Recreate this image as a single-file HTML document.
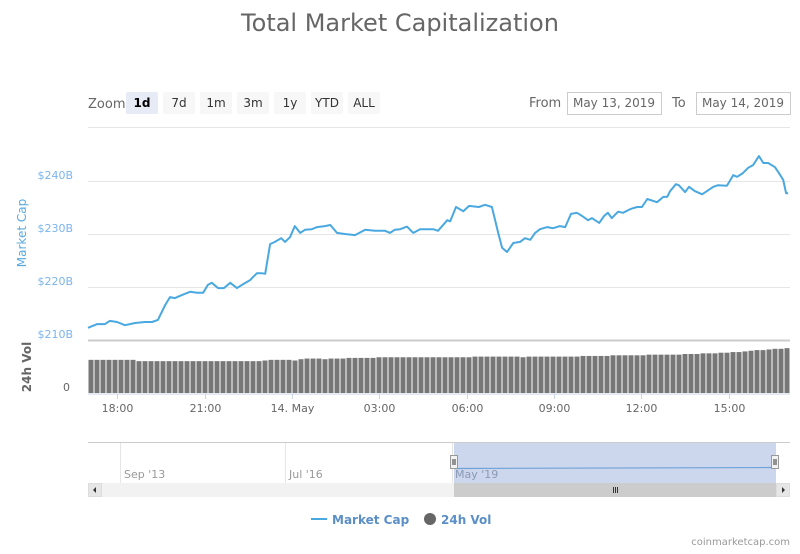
<!DOCTYPE html>
<html><head><meta charset="utf-8">
<style>
body{margin:0;background:#fff;font-family:"DejaVu Sans","Liberation Sans",sans-serif;}
svg text{font-family:"DejaVu Sans","Liberation Sans",sans-serif;}
</style></head>
<body>
<svg id="chart" width="800" height="550" viewBox="0 0 800 550" xmlns="http://www.w3.org/2000/svg">
<text x="400" y="31" text-anchor="middle" font-size="24" fill="#666">Total Market Capitalization</text>
<g>
<text x="88" y="108" font-size="13" fill="#666">Zoom</text>
<g><rect x="126" y="92" width="32" height="22" rx="2" fill="#e6ebf5"/><text x="142" y="107" text-anchor="middle" font-size="12" font-weight="bold" fill="#000">1d</text></g>
<g><rect x="163" y="92" width="32" height="22" rx="2" fill="#f7f7f7"/><text x="179" y="107" text-anchor="middle" font-size="12" fill="#333">7d</text></g>
<g><rect x="200" y="92" width="32" height="22" rx="2" fill="#f7f7f7"/><text x="216" y="107" text-anchor="middle" font-size="12" fill="#333">1m</text></g>
<g><rect x="237" y="92" width="32" height="22" rx="2" fill="#f7f7f7"/><text x="253" y="107" text-anchor="middle" font-size="12" fill="#333">3m</text></g>
<g><rect x="274" y="92" width="32" height="22" rx="2" fill="#f7f7f7"/><text x="290" y="107" text-anchor="middle" font-size="12" fill="#333">1y</text></g>
<g><rect x="311" y="92" width="32" height="22" rx="2" fill="#f7f7f7"/><text x="327" y="107" text-anchor="middle" font-size="12" fill="#333">YTD</text></g>
<g><rect x="348" y="92" width="32" height="22" rx="2" fill="#f7f7f7"/><text x="364" y="107" text-anchor="middle" font-size="12" fill="#333">ALL</text></g>
<text x="529" y="107" font-size="13" fill="#666">From</text>
<g><rect x="567.5" y="92.5" width="94" height="22" fill="#fff" stroke="#ccc"/><text x="614" y="107" text-anchor="middle" font-size="12" fill="#666">May 13, 2019</text></g>
<text x="672" y="107" font-size="13" fill="#666">To</text>
<g><rect x="696.5" y="92.5" width="94" height="22" fill="#fff" stroke="#ccc"/><text x="743" y="107" text-anchor="middle" font-size="12" fill="#666">May 14, 2019</text></g>
</g>
<g id="grid"></g>
<g id="yaxis"></g>
<text transform="translate(26,233) rotate(-90)" text-anchor="middle" font-size="12" fill="#5aa9de">Market Cap</text>
<text transform="translate(31,367) rotate(-90)" text-anchor="middle" font-size="12" font-weight="bold" fill="#666">24h Vol</text>
<text x="70" y="391" text-anchor="end" font-size="11" fill="#666">0</text>
<g id="bars"></g>
<path id="line" fill="none" stroke="#4aa8e0" stroke-width="2" stroke-linejoin="round"/>
<line x1="88" y1="394" x2="790" y2="394" stroke="#ccd6eb"/>
<g id="xaxis"></g>
<g>
<line x1="88" y1="442.5" x2="790" y2="442.5" stroke="#ccc"/>
<line x1="120.5" y1="443" x2="120.5" y2="483" stroke="#e6e6e6"/>
<line x1="285.5" y1="443" x2="285.5" y2="483" stroke="#e6e6e6"/>
<line x1="452.5" y1="443" x2="452.5" y2="483" stroke="#e6e6e6"/>
<text x="124" y="478" font-size="11" fill="#999">Sep '13</text>
<text x="289" y="478" font-size="11" fill="#999">Jul '16</text>
<rect x="454" y="443" width="322" height="40" fill="#ccd6ec"/>
<text x="455" y="478" font-size="11" fill="#8a9ab5">May '19</text>
<line x1="454" y1="468.5" x2="776" y2="467.5" stroke="#6fa3d8" stroke-width="1.2"/>
<g><rect x="450.5" y="455.5" width="7" height="13" fill="#f2f2f2" stroke="#999"/><line x1="453" y1="459" x2="453" y2="465" stroke="#333"/><line x1="455" y1="459" x2="455" y2="465" stroke="#333"/></g>
<g><rect x="771.5" y="455.5" width="7" height="13" fill="#f2f2f2" stroke="#999"/><line x1="774" y1="459" x2="774" y2="465" stroke="#333"/><line x1="776" y1="459" x2="776" y2="465" stroke="#333"/></g>
</g>
<g>
<rect x="88" y="483" width="702" height="14" fill="#f2f2f2"/>
<rect x="454" y="483" width="322" height="14" fill="#cccccc"/>
<line x1="613.5" y1="487" x2="613.5" y2="493" stroke="#333"/><line x1="615.5" y1="487" x2="615.5" y2="493" stroke="#333"/><line x1="617.5" y1="487" x2="617.5" y2="493" stroke="#333"/>
<g><rect x="88.5" y="483.5" width="13" height="13" fill="#e6e6e6" stroke="#ddd"/><path d="M96 487 L93 490 L96 493Z" fill="#333"/></g>
<g><rect x="776.5" y="483.5" width="13" height="13" fill="#e6e6e6" stroke="#ddd"/><path d="M782 487 L785 490 L782 493Z" fill="#333"/></g>
</g>
<g>
<g><line x1="311" y1="519" x2="327" y2="519" stroke="#4aa8e0" stroke-width="2"/><text x="332" y="524" font-size="12" font-weight="bold" fill="#5b8fc6">Market Cap</text></g>
<g><circle cx="430" cy="519" r="6" fill="#666"/><text x="441" y="524" font-size="12" font-weight="bold" fill="#5b8fc6">24h Vol</text></g>
</g>
<text x="790" y="545" text-anchor="end" font-size="10" fill="#999">coinmarketcap.com</text>
</svg>
<script>
// minutes since 13 May 17:00
const times=[0,19,35,45,60,76,97,117,132,144,159,169,179,194,210,225,237,247,255,268,280,293,307,317,334,348,358,365,375,385,398,406,416,426,437,447,461,472,488,499,513,529,550,571,591,612,622,632,643,657,670,684,711,721,740,746,758,773,785,805,818,832,845,853,863,876,890,900,911,921,931,946,958,972,983,995,1007,1018,1030,1038,1053,1063,1071,1079,1092,1102,1117,1131,1141,1152,1172,1185,1193,1199,1211,1217,1230,1238,1250,1265,1275,1288,1298,1316,1329,1337,1349,1360,1370,1382,1391,1401,1415,1426,1432,1438,1442];
const marketCap=[212.3,213.0,213.0,213.6,213.4,212.8,213.2,213.4,213.4,213.8,216.6,218.1,217.9,218.5,219.1,218.9,218.9,220.4,220.8,219.8,219.8,220.8,219.8,220.4,221.3,222.6,222.6,222.5,228.1,228.5,229.2,228.5,229.4,231.5,230.2,230.8,230.9,231.3,231.5,231.7,230.2,230.0,229.8,230.8,230.6,230.6,230.2,230.8,230.9,231.4,230.2,230.9,230.9,230.6,232.6,232.4,235.1,234.3,235.3,235.1,235.5,235.1,230.2,227.4,226.6,228.3,228.5,229.2,228.9,230.2,230.9,231.3,231.1,231.5,231.3,233.8,234.0,233.4,232.6,233.0,232.1,233.4,234.0,233.0,234.2,234.0,234.7,235.1,235.1,236.6,236.0,237.0,237.0,238.1,239.4,239.2,237.9,238.9,238.1,237.5,238.1,238.9,239.2,239.1,241.1,240.8,241.5,242.5,243.0,244.7,243.4,243.4,242.6,241.1,240.2,237.7,237.7];
const volume=[51,51,51,51,51,51,51,51,49,49,49,49,49,49,49,49,49,49,49,49,49,49,49,49,49,49,49,49,49,50,51,51,51,51,50,52,53,53,53,52,53,53,53,54,54,54,54,54,55,55,55,55,55,55,55,55,55,55,55,55,55,55,55,55,56,56,56,56,56,56,56,56,55,56,56,56,56,56,56,56,56,56,57,57,57,57,57,58,58,58,58,58,58,59,59,59,59,59,59,60,60,60,61,61,61,62,62,63,63,64,65,66,66,67,68,68,69];
const yTicks=[210,220,230,240];
const yTickLabels=['$210B','$220B','$230B','$240B'];
const xTicks=[60,240,420,600,780,960,1140,1320];
const xTickLabels=['18:00','21:00','14. May','03:00','06:00','09:00','12:00','15:00'];

const NS='http://www.w3.org/2000/svg';
const X0=88,X1=790,T0=0,T1=1446;
const xs=t=>X0+(t-T0)/(T1-T0)*(X1-X0);
const ys=v=>340-(v-210)*5.3;
const VB=393,vs=v=>VB-v*0.65;
function mk(tag,attrs,parent){const e=document.createElementNS(NS,tag);for(const k in attrs)e.setAttribute(k,attrs[k]);parent.appendChild(e);return e;}
const grid=document.getElementById('grid'),yax=document.getElementById('yaxis'),xax=document.getElementById('xaxis'),bars=document.getElementById('bars');
const topLine=mk('line',{x1:X0,x2:X1,y1:127.5,y2:127.5,stroke:'#e6e6e6'},grid);


yTicks.forEach((v,i)=>{
  const y=Math.round(ys(v))+0.5;
  const g=mk('line',{x1:X0,x2:X1,y1:y,y2:y,stroke:i===0?'#ccc':'#e6e6e6','stroke-width':i===0?2:1},grid);
  
  
  const t=mk('text',{x:73,y:ys(v)-2,'text-anchor':'end','font-size':11,fill:'#7cb5ec'},yax);
  t.textContent=yTickLabels[i];
  
  
});
const bw=(X1-X0)/volume.length;
volume.forEach((v,i)=>{
  const r=mk('rect',{x:X0+i*bw+0.5,y:vs(v),width:Math.max(bw-1,1),height:VB-vs(v),fill:'#777'},bars);
  
  
});
let d='';
times.forEach((t,i)=>{d+=(i?'L':'M')+xs(t).toFixed(1)+' '+ys(marketCap[i]).toFixed(1);});
document.getElementById('line').setAttribute('d',d);
xTicks.forEach((t,i)=>{
  const x=Math.round(xs(t))+0.5;
  const l=mk('line',{x1:x,x2:x,y1:394,y2:399,stroke:'#ccd6eb'},xax);
  
  
  const tx=mk('text',{x:x,y:412,'text-anchor':'middle','font-size':11,fill:'#666'},xax);
  tx.textContent=xTickLabels[i];
  
  
});
</script>
</body></html>
